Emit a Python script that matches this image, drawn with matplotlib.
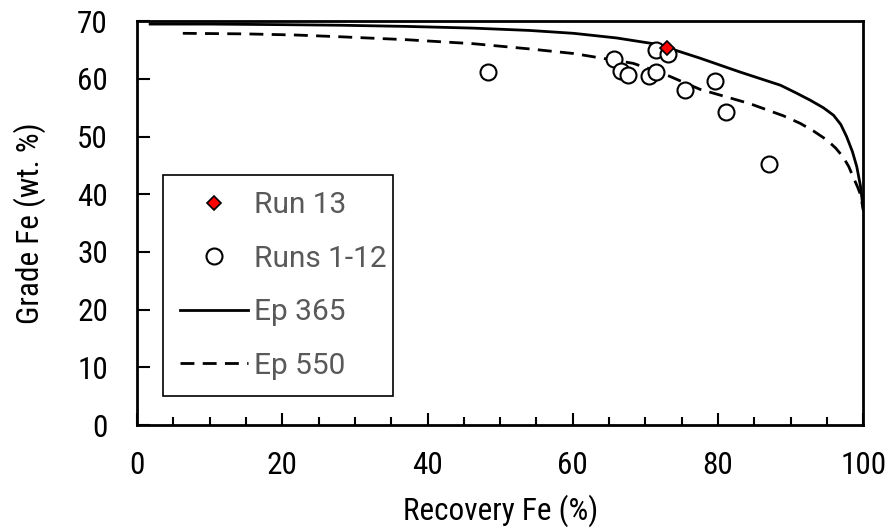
import matplotlib
matplotlib.use("Agg")
import matplotlib.pyplot as plt
from matplotlib import font_manager

# grade-recovery data for the Fe separation runs
runs_recovery = [48.3, 65.7, 66.6, 67.6, 70.5, 71.4, 71.4, 73.1, 75.5, 79.6, 81.1, 87.0]
runs_grade = [61.2, 63.5, 61.4, 60.6, 60.5, 61.2, 65.0, 64.4, 58.0, 59.7, 54.2, 45.2]

run13_recovery = [73.0]
run13_grade = [65.4]

ep365_recovery = [1.8, 10, 20, 28, 37, 46.3, 54, 60.1, 66, 71.6, 77.5, 83, 88.6, 90.7, 92.7,
                  94.5, 95.9, 96.9, 97.7, 98.5, 99.1, 99.6, 100]
ep365_grade = [69.5, 69.5, 69.4, 69.3, 69.1, 68.8, 68.4, 67.9, 67.1, 66.0, 63.6, 61.2, 58.9, 57.6, 56.3,
               55.0, 53.7, 52.1, 50.0, 47.4, 44.8, 41.5, 37.3]

ep550_recovery = [6.3, 15, 22, 28, 37, 46.3, 54, 60.1, 68.3, 72.5, 77.5, 84.4, 89.0, 91.3, 93.1,
                  95.0, 96.2, 97.2, 98.0, 98.6, 99.2, 99.6, 100]
ep550_grade = [67.9, 67.8, 67.6, 67.3, 66.8, 66.1, 65.2, 64.4, 62.7, 60.9, 58.2, 55.7, 53.6, 52.3, 51.0,
               49.4, 48.0, 46.5, 44.8, 43.0, 41.3, 40.0, 37.3]

fonts = font_manager.fontManager.ttflist
axis_font = "Roboto"
for want in ["Liberation Sans Narrow", "Roboto Condensed", "Open Sans Condensed", "Noto Sans Condensed"]:
    if any(f.name == want for f in fonts):
        axis_font = want
        break

fig = plt.figure(figsize=(8.9, 5.3), dpi=100)
ax = fig.add_axes([0.154, 0.198, 0.816, 0.762])

ax.plot(ep365_recovery, ep365_grade, color="black", lw=2, label="Ep 365", zorder=2)
ax.plot(ep550_recovery, ep550_grade, color="black", lw=2, ls=(0, (5, 3)), label="Ep 550", zorder=2)
ax.plot(runs_recovery, runs_grade, ls="none", marker="o", ms=11.5, mfc="white", mec="black",
        mew=1.5, label="Runs 1-12", zorder=3)
ax.plot(run13_recovery, run13_grade, ls="none", marker="D", ms=7.5, mfc="red", mec="black",
        mew=1.2, label="Run 13", zorder=4)

ax.set_xlim(0, 100)
ax.set_ylim(0, 70)
ax.set_xticks(range(0, 101, 20))
ax.set_xticks(range(0, 101, 5), minor=True)
ax.set_yticks(range(0, 71, 10))
ax.tick_params(which="both", direction="in", top=False, right=False, width=1.5)
ax.tick_params(which="major", length=9)
ax.tick_params(which="minor", length=6)
ax.tick_params(axis="x", pad=19)
ax.tick_params(axis="y", pad=21)
for lab in ax.get_xticklabels() + ax.get_yticklabels():
    lab.set_fontfamily(axis_font)
    lab.set_fontsize(22.5)
for sp in ax.spines.values():
    sp.set_linewidth(2)

ax.set_xlabel("Recovery Fe (%)", fontsize=22.5, family=axis_font, labelpad=10)
ax.set_ylabel("Grade Fe (wt. %)", fontsize=22.5, family=axis_font, labelpad=22)

handles, labels = ax.get_legend_handles_labels()
order = [3, 2, 0, 1]
leg = ax.legend([handles[i] for i in order], [labels[i] for i in order],
                loc="upper left", bbox_to_anchor=(0.036, 0.619, 0.317, 0.0), mode="expand",
                fancybox=False, edgecolor="black", framealpha=1, handlelength=2.3,
                handletextpad=0.2, labelspacing=0.85, borderaxespad=0, borderpad=0.55,
                prop={"family": "Roboto", "size": 21.5}, labelcolor="#595959", markerscale=1.0)
leg.get_frame().set_linewidth(1.2)

fig.savefig("out.png", dpi=100)
